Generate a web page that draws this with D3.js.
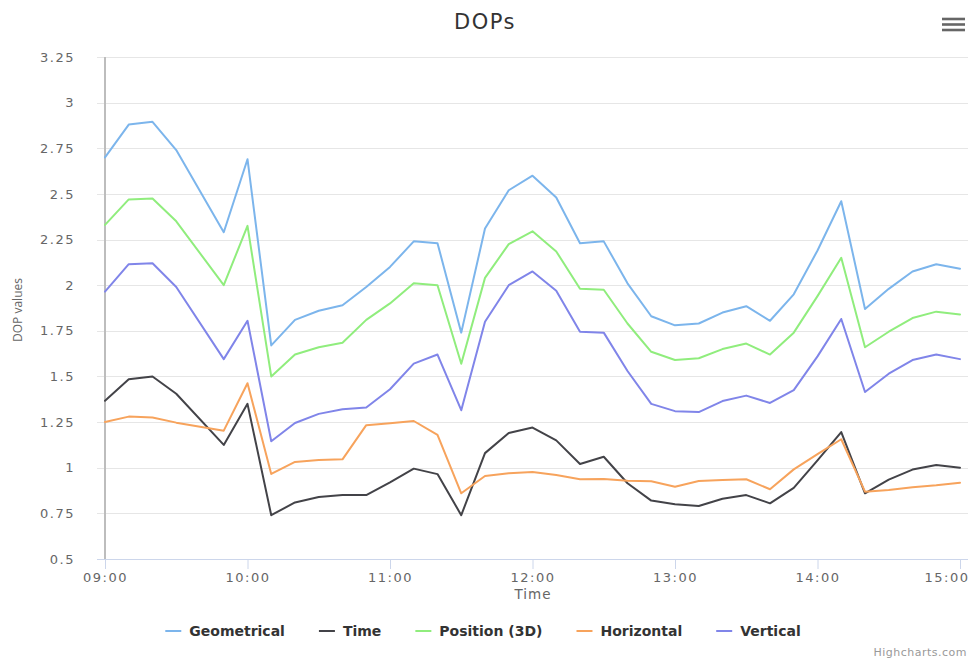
<!DOCTYPE html>
<html>
<head>
<meta charset="utf-8">
<script src="https://cdn.jsdelivr.net/npm/d3@7"></script>
<style>
  html, body { margin: 0; padding: 0; background: #fff; }
  svg { display: block; font-family: "DejaVu Sans", sans-serif; }
</style>
</head>
<body>
<svg id="chart" width="971" height="659"></svg>
<script>
// Data (DOP values every 10 minutes; no sample at 09:40)
const times = ["09:00","09:10","09:20","09:30","09:50","10:00","10:10","10:20","10:30","10:40",
    "10:50","11:00","11:10","11:20","11:30","11:40","11:50","12:00","12:10","12:20",
    "12:30","12:40","12:50","13:00","13:10","13:20","13:30","13:40","13:50","14:00",
    "14:10","14:20","14:30","14:40","14:50","15:00"];

const geometrical = [2.70,2.88,2.895,2.74,2.29,2.69,1.67,1.81,1.86,1.89,
    1.99,2.10,2.24,2.23,1.74,2.31,2.52,2.60,2.48,2.23,
    2.24,2.01,1.83,1.78,1.79,1.85,1.885,1.805,1.95,2.19,
    2.46,1.87,1.98,2.075,2.115,2.09];
const timeDop = [1.367,1.485,1.50,1.405,1.125,1.35,0.74,0.81,0.84,0.85,
    0.85,0.92,0.995,0.965,0.74,1.08,1.19,1.22,1.15,1.02,
    1.06,0.915,0.82,0.80,0.79,0.83,0.85,0.805,0.89,1.04,
    1.195,0.86,0.935,0.99,1.015,1.0];
const position3d = [2.33,2.47,2.475,2.35,2.0,2.325,1.50,1.62,1.66,1.685,
    1.81,1.90,2.01,2.00,1.57,2.04,2.225,2.295,2.185,1.98,
    1.975,1.79,1.635,1.59,1.60,1.65,1.68,1.62,1.74,1.94,
    2.15,1.66,1.745,1.82,1.855,1.84];
const horizontal = [1.25,1.28,1.275,1.247,1.203,1.463,0.966,1.032,1.042,1.046,
    1.233,1.244,1.256,1.18,0.86,0.955,0.97,0.977,0.96,0.937,
    0.938,0.929,0.926,0.896,0.927,0.933,0.937,0.882,0.991,1.075,
    1.156,0.869,0.878,0.893,0.904,0.918];
const vertical = [1.965,2.115,2.12,1.99,1.595,1.805,1.145,1.245,1.295,1.32,
    1.33,1.43,1.57,1.62,1.315,1.80,2.00,2.075,1.97,1.745,
    1.74,1.53,1.35,1.31,1.305,1.365,1.395,1.355,1.425,1.61,
    1.815,1.415,1.515,1.59,1.62,1.595];

const seriesNames = ["Geometrical", "Time", "Position (3D)", "Horizontal", "Vertical"];
const seriesValues = [geometrical, timeDop, position3d, horizontal, vertical];
const seriesColors = ["#7cb5ec", "#434348", "#90ed7d", "#f7a35c", "#8085e9"];

const yTicks = [0.5, 0.75, 1, 1.25, 1.5, 1.75, 2, 2.25, 2.5, 2.75, 3, 3.25];
const xTickLabels = ["09:00", "10:00", "11:00", "12:00", "13:00", "14:00", "15:00"];

// Layout
const svg = d3.select("#chart");
const plot = {left: 97, right: 968, top: 57, bottom: 559};
const parseTime = d3.timeParse("%H:%M");

const x = d3.scaleTime()
    .domain([parseTime("09:00"), parseTime("15:00")])
    .range([105, 960]);
const y = d3.scaleLinear().domain([0.5, 3.25]).range([plot.bottom, plot.top]);

// Title
svg.append("text")
    .attr("x", 485).attr("y", 29)
    .attr("text-anchor", "middle")
    .attr("font-size", 21).attr("fill", "#333")
    .attr("letter-spacing", 1.5)
    .text("DOPs");

// Menu icon
const menu = svg.append("g").attr("stroke", "#666").attr("stroke-width", 2.6);
[19, 24.5, 30].forEach(yy => {
    menu.append("line").attr("x1", 942).attr("x2", 965).attr("y1", yy).attr("y2", yy);
});

// Gridlines
svg.append("g")
    .selectAll("line")
    .data(yTicks)
    .enter().append("line")
    .attr("x1", plot.left).attr("x2", plot.right)
    .attr("y1", d => Math.round(y(d)) + 0.5).attr("y2", d => Math.round(y(d)) + 0.5)
    .attr("stroke", d => d === 0.5 ? "#ccd6eb" : "#e6e6e6")
    .attr("stroke-width", 1);

// Y axis labels
const yAxis = svg.append("g")
    .attr("transform", `translate(${plot.left},0)`)
    .call(d3.axisLeft(y).tickValues(yTicks).tickSize(0).tickPadding(22)
        .tickFormat(d => String(d)));
yAxis.select(".domain").remove();
yAxis.selectAll("text").attr("fill", "#666").attr("font-size", 13)
    .attr("letter-spacing", 1.5)
    .attr("font-family", "DejaVu Sans, sans-serif");

// Vertical axis line at 09:00
svg.append("line")
    .attr("x1", 105).attr("x2", 105)
    .attr("y1", plot.top).attr("y2", plot.bottom)
    .attr("stroke", "#bdbdbd").attr("stroke-width", 2);

// X axis
const xAxis = svg.append("g")
    .attr("transform", `translate(0,${plot.bottom})`)
    .call(d3.axisBottom(x)
        .tickValues(xTickLabels.map(parseTime))
        .tickSize(10).tickPadding(4)
        .tickFormat(d3.timeFormat("%H:%M")));
xAxis.select(".domain").remove();
xAxis.selectAll("line").attr("stroke", "#ccd6eb");
xAxis.selectAll("text").attr("fill", "#666").attr("font-size", 13)
    .attr("letter-spacing", 1.5)
    .attr("font-family", "DejaVu Sans, sans-serif");
// keep the last label inside the chart, as Highcharts does
xAxis.selectAll(".tick").filter((d, i, n) => i === n.length - 1)
    .select("text").attr("text-anchor", "end").attr("dx", 9);

// Axis titles
svg.append("text")
    .attr("x", 533).attr("y", 599)
    .attr("text-anchor", "middle")
    .attr("font-size", 13.5).attr("fill", "#666")
    .attr("letter-spacing", 1)
    .text("Time");

svg.append("text")
    .attr("transform", "translate(22,310) rotate(-90)")
    .attr("text-anchor", "middle")
    .attr("font-family", "Open Sans, sans-serif")
    .attr("font-size", 12).attr("fill", "#666")
    .text("DOP values");

// Lines
const line = d3.line()
    .x((d, i) => x(parseTime(times[i])))
    .y(d => y(d));

svg.append("g")
    .selectAll("path")
    .data(seriesValues)
    .enter().append("path")
    .attr("d", line)
    .attr("fill", "none")
    .attr("stroke", (d, i) => seriesColors[i])
    .attr("stroke-width", 2)
    .attr("stroke-linejoin", "round")
    .attr("stroke-linecap", "round");

// Legend
const legend = svg.append("g").attr("font-size", 14).attr("font-weight", "bold");
const legendItems = legend.selectAll("g")
    .data(seriesNames)
    .enter().append("g");

legendItems.append("line")
    .attr("x1", 0).attr("x2", 16)
    .attr("y1", 631).attr("y2", 631)
    .attr("stroke", (d, i) => seriesColors[i])
    .attr("stroke-width", 2);

legendItems.append("text")
    .attr("x", 24).attr("y", 636)
    .attr("fill", "#333")
    .text(d => d);

const widths = [];
legendItems.each(function() { widths.push(this.getBBox().width); });
const gap = 34;
const total = d3.sum(widths) + gap * (widths.length - 1);
let cursor = 483 - total / 2;
legendItems.attr("transform", (d, i) => {
    const t = `translate(${cursor},0)`;
    cursor += widths[i] + gap;
    return t;
});

// Credits
svg.append("text")
    .attr("x", 967).attr("y", 656)
    .attr("text-anchor", "end")
    .attr("font-size", 11).attr("fill", "#999")
    .attr("letter-spacing", 0.5)
    .text("Highcharts.com");
</script>
</body>
</html>
